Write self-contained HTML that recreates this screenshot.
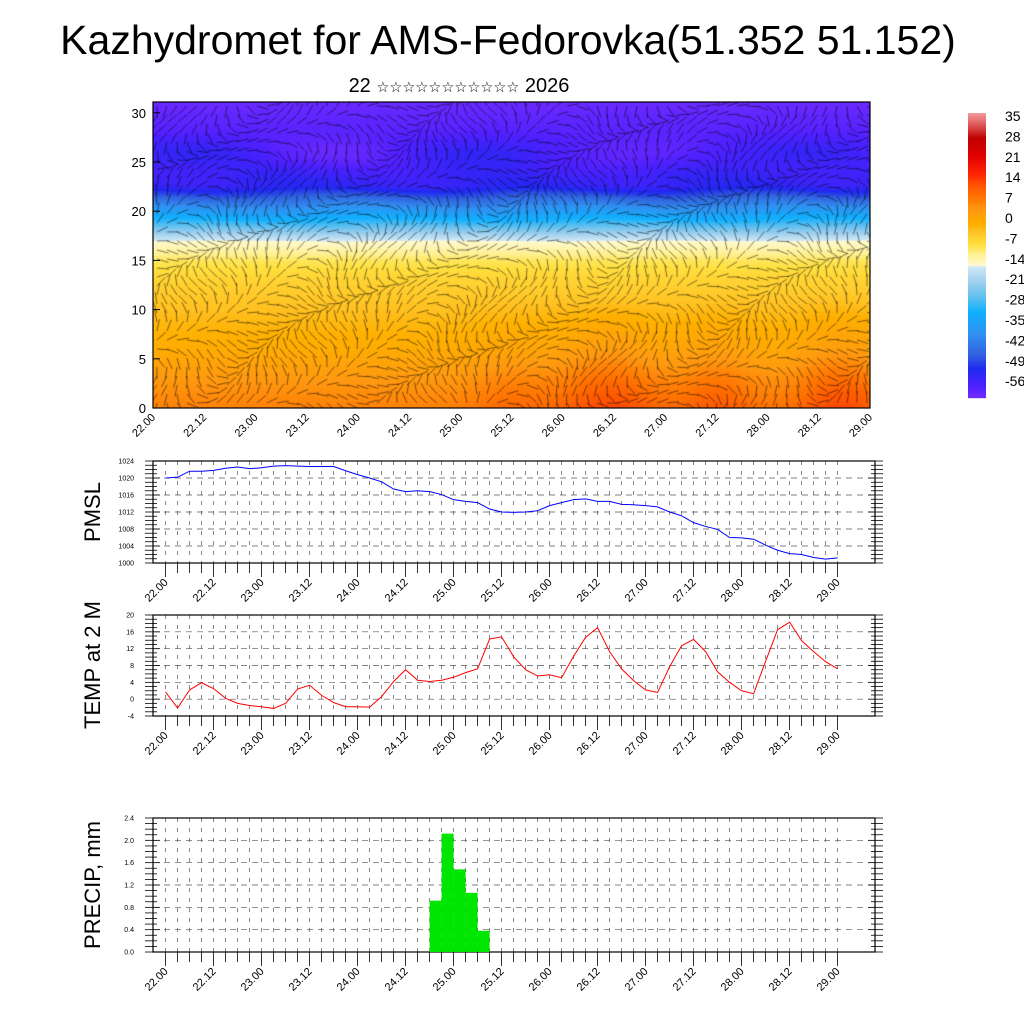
<!DOCTYPE html>
<html><head><meta charset="utf-8">
<style>
html,body{margin:0;padding:0;background:#fff;}
#wrap{position:relative;width:1024px;height:1024px;overflow:hidden;font-family:"Liberation Sans","DejaVu Sans",sans-serif;}
canvas{position:absolute;left:153px;top:102px;}
svg{position:absolute;left:0;top:0;}
</style></head>
<body>
<div id="wrap">
<canvas id="field" width="717" height="306"></canvas>
<svg id="svg" width="1024" height="1024" xmlns="http://www.w3.org/2000/svg">
<text x="508" y="54" font-size="41" text-anchor="middle" font-family="Liberation Sans, sans-serif">Kazhydromet for AMS-Fedorovka(51.352 51.152)</text>
<text x="459" y="92" font-size="20" text-anchor="middle" font-family="Liberation Sans, DejaVu Sans, sans-serif">22 <tspan font-size="14.5">☆☆☆☆☆☆☆☆☆☆☆</tspan> 2026</text>
</svg>
</div>
<script>
// ---- data ----
const timeLabels = ["22.00","22.12","23.00","23.12","24.00","24.12","25.00","25.12","26.00","26.12","27.00","27.12","28.00","28.12","29.00"];
const pmslTicks = [1000,1004,1008,1012,1016,1020,1024];
const pmsl = [1020,1020.2,1021.6,1021.6,1021.8,1022.3,1022.6,1022.2,1022.4,1022.8,1022.9,1022.8,1022.7,1022.7,1022.7,1021.7,1020.8,1020,1019.1,1017.4,1016.8,1017,1016.8,1016.1,1014.9,1014.5,1014.2,1012.7,1012.0,1011.9,1012,1012.3,1013.5,1014.2,1014.9,1015.1,1014.5,1014.5,1013.8,1013.7,1013.5,1013.2,1012,1011.1,1009.5,1008.6,1007.9,1006,1005.9,1005.6,1004.2,1003,1002.2,1002,1001.3,1000.9,1001.2];
const tempTicks = [-4,0,4,8,12,16,20];
const temp2m = [1.7,-2.1,2.2,3.9,2.5,0.2,-1,-1.5,-1.8,-2.2,-1,2.4,3.3,0.9,-0.8,-1.8,-1.8,-1.9,0.6,4.2,7,4.5,4.2,4.5,5.2,6.3,7.2,14.3,14.8,10.1,7,5.5,5.8,5.1,10.2,14.7,17,11.3,7.2,4.4,2.2,1.6,7.7,12.7,14.2,11.3,6.5,4,2,1.3,9,16.5,18.3,13.9,11.3,8.9,7.2];
const precipTicks = [0,0.4,0.8,1.2,1.6,2.0,2.4];
const precipStart = [22,23,24,25,26];
const precipVals = [0.92,2.12,1.48,1.06,0.38];
const heightTicks = [0,5,10,15,20,25,30];
const cbarLabels = [35,28,21,14,7,0,-7,-14,-21,-28,-35,-42,-49,-56];

const NS="http://www.w3.org/2000/svg";
const svg=document.getElementById('svg');
function el(tag,attrs,parent){const e=document.createElementNS(NS,tag);for(const k in attrs)e.setAttribute(k,attrs[k]);(parent||svg).appendChild(e);return e;}

// colormap
const stops=[[-62,[130,50,255]],[-56,[80,32,255]],[-50,[32,40,240]],[-45,[48,96,224]],[-38,[48,144,240]],[-30,[16,176,255]],[-25,[96,192,240]],[-20,[156,207,239]],[-14.5,[208,232,245]],[-14,[255,250,208]],[-10,[255,240,144]],[-7,[255,224,64]],[-2,[255,192,32]],[0,[255,176,0]],[5,[255,154,16]],[10,[255,112,0]],[14,[255,80,0]],[18,[255,32,0]],[24,[224,0,0]],[30,[192,0,0]],[35,[224,96,96]],[40,[248,176,176]]];
function cmap(t){if(t<=stops[0][0])return stops[0][1];for(let i=1;i<stops.length;i++){if(t<=stops[i][0]){const a=stops[i-1],b=stops[i];const f=(t-a[0])/(b[0]-a[0]);return [0,1,2].map(k=>Math.round(a[1][k]+(b[1][k]-a[1][k])*f));}}return stops[stops.length-1][1];}

// ---- top field ----
const FW=717,FH=306,HMAX=31.1;
const prof=[[0,8],[3,5],[6,1],[10,-2],[13,-5],[15,-8],[17,-14],[18.5,-25],[20,-35],[21.5,-45],[22.5,-52],[25,-55],[27,-56],[31,-59]];
function tprof(h){for(let i=1;i<prof.length;i++){if(h<=prof[i][0]){const a=prof[i-1],b=prof[i];return a[1]+(b[1]-a[1])*(h-a[0])/(b[0]-a[0]);}}return -59;}
const cv=document.getElementById('field'),ctx=cv.getContext('2d');
const img=ctx.createImageData(FW,FH);
for(let y=0;y<FH;y++){const h=(FH-y)/FH*HMAX;for(let x=0;x<FW;x++){const d=x/FW*7;
let t=tprof(h);const low=Math.max(0,1-h/12);
t+=low*(7*Math.exp(-Math.pow((d-4.45)/0.5,2))+7*Math.exp(-Math.pow((d-6.7)/0.45,2))+3*Math.exp(-Math.pow((d-3.5)/0.4,2))+5*Math.exp(-Math.pow((d-5.5)/0.4,2)));
t+=1.5*Math.sin(d*3+h*0.7)*Math.max(0,1-Math.abs(h-22)/6);
t+=3*Math.sin(d*2.1+1)*Math.exp(-Math.pow((h-26)/1.5,2));
const c=cmap(t);const i=(y*FW+x)*4;img.data[i]=c[0];img.data[i+1]=c[1];img.data[i+2]=c[2];img.data[i+3]=255;}}
ctx.putImageData(img,0,0);
ctx.strokeStyle='rgba(0,0,0,0.85)';ctx.lineWidth=0.6;
for(let gy=4;gy<FH;gy+=9){for(let gx=4;gx<FW;gx+=10){const a=Math.sin(gx*0.03+gy*0.05)*1.4+Math.cos(gx*0.011-gy*0.02)*1.1;const L=12;
ctx.beginPath();ctx.moveTo(gx,gy);ctx.lineTo(gx+L*Math.cos(a),gy+L*Math.sin(a));ctx.stroke();}}
el('rect',{x:153,y:102,width:717,height:306,fill:'none',stroke:'#000','stroke-width':1.2,});
const hy=h=>408-h*(306/HMAX);
heightTicks.forEach(h=>{const t=el('text',{x:146,y:hy(h)+5,'font-size':13,'text-anchor':'end'});t.textContent=h;

el('line',{x1:153,x2:160,y1:hy(h),y2:hy(h),stroke:'#000'});});
timeLabels.forEach((lab,i)=>{const x=153+i*717/14;const t=el('text',{x:x+3,y:418,'font-size':11,'text-anchor':'end',transform:`rotate(-45 ${x+3} 418)`});t.textContent=lab;
});

// colorbar
const cbTop=113,cbBot=398,cbTmax=38.5,cbTmin=-60;
for(let y=cbTop;y<cbBot;y++){const t=cbTmax-(y-cbTop)/(cbBot-cbTop)*(cbTmax-cbTmin);const c=cmap(t);
el('rect',{x:968,y:y,width:18,height:1.2,fill:`rgb(${c[0]},${c[1]},${c[2]})`});}
cbarLabels.forEach((v,i)=>{const t=el('text',{x:1005,y:121+i*20.4,'font-size':14});t.textContent=v;
});

// ---- lower panels ----
const X0=165.6,DX=12; const xi=i=>X0+DX*i;
function panel(name,top,bot,ticks,vals,color,label,labelY,fmt){
 const vmin=ticks[0],vmax=ticks[ticks.length-1];
 const yv=v=>bot-(v-vmin)/(vmax-vmin)*(bot-top);
 const g=el('g',{});
 for(let i=0;i<=56;i++){el('line',{x1:xi(i),x2:xi(i),y1:top,y2:bot,stroke:'#555','stroke-width':0.7,'stroke-dasharray':'4,6'},g);
  el('line',{x1:xi(i),x2:xi(i),y1:bot,y2:bot+(i%4==0?14:10),stroke:'#000','stroke-width':0.8},g);}
 ticks.forEach((v,k)=>{if(k>0&&k<ticks.length-1)el('line',{x1:153,x2:875,y1:yv(v),y2:yv(v),stroke:'#555','stroke-width':0.7,'stroke-dasharray':'6,5'},g);
  const t=el('text',{x:134,y:yv(v)+2.5,'font-size':7,'text-anchor':'end'},g);t.textContent=fmt(v);
  });
 const step=(vmax-vmin)/((ticks.length-1)*4);
 for(let v=vmin,k=0;v<=vmax+1e-6;v+=step,k++){const L=k%4==0?7:4;el('line',{x1:153,x2:153+L,y1:yv(v),y2:yv(v),stroke:'#000','stroke-width':0.8},g);el('line',{x1:875,x2:875-L,y1:yv(v),y2:yv(v),stroke:'#000','stroke-width':0.8},g);
  el('line',{x1:145,x2:153,y1:yv(v),y2:yv(v),stroke:'#000','stroke-width':0.8},g);el('line',{x1:875,x2:883,y1:yv(v),y2:yv(v),stroke:'#000','stroke-width':0.8},g);}
 el('rect',{x:153,y:top,width:722,height:bot-top,fill:'none',stroke:'#000','stroke-width':1.2},g);
 timeLabels.forEach((lab,i)=>{const x=xi(i*4)+3;const t=el('text',{x:x,y:bot+20,'font-size':11,'text-anchor':'end',transform:`rotate(-45 ${x} ${bot+20})`},g);t.textContent=lab;
  });
 const yl=el('text',{x:100,y:labelY,'font-size':22,'text-anchor':'middle',transform:`rotate(-90 100 ${labelY})`},g);yl.textContent=label;
 
 return {yv,g};
}
const p1=panel('pmsl',461,563,pmslTicks,pmsl,'blue','PMSL',512,v=>v);
const l1=el('polyline',{points:pmsl.map((v,i)=>xi(i)+','+p1.yv(v)).join(' '),fill:'none',stroke:'#0000ff','stroke-width':1},p1.g);

const p2=panel('temp',615,716,tempTicks,temp2m,'red','TEMP at 2 M',665,v=>v);
const l2=el('polyline',{points:temp2m.map((v,i)=>xi(i)+','+p2.yv(v)).join(' '),fill:'none',stroke:'#ff0000','stroke-width':1},p2.g);

const p3=panel('precip',818,952,precipTicks,precipVals,'green','PRECIP, mm',885,v=>v.toFixed(1));
precipVals.forEach((v,k)=>{const x=xi(precipStart[k]);const r=el('rect',{x:x,y:p3.yv(v),width:DX,height:p3.yv(0)-p3.yv(v),fill:'#00e600'},p3.g);
 });
</script>
</body></html>
